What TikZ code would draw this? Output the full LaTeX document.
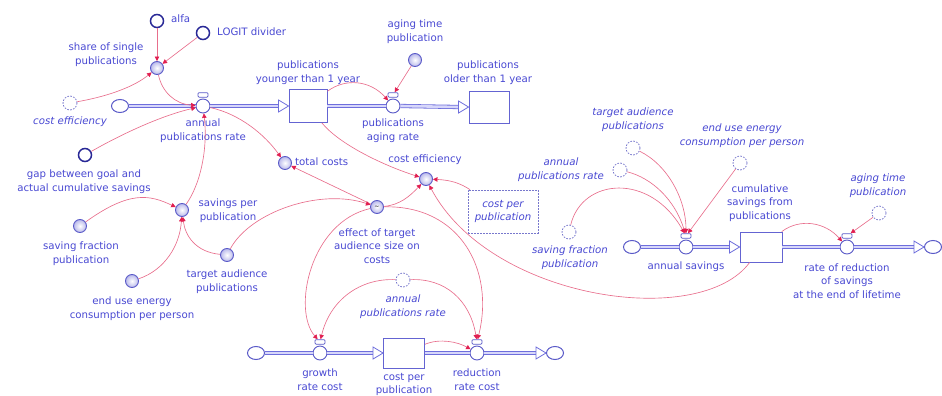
\documentclass[tikz,border=0pt]{standalone}
\usepackage{fontspec}
\setmainfont{DejaVu Sans}
\usetikzlibrary{arrows.meta,shapes.geometric}
\definecolor{textblue}{RGB}{72,72,210}
\definecolor{navy}{RGB}{40,40,150}
\definecolor{auxblue}{RGB}{90,90,200}
\definecolor{auxfill}{RGB}{185,185,235}
\definecolor{ghostblue}{RGB}{120,120,205}
\definecolor{pipeblue}{RGB}{110,110,220}
\definecolor{pipefill}{RGB}{215,215,250}
\definecolor{stockblue}{RGB}{100,100,210}
\definecolor{linkpink}{RGB}{232,110,140}
\definecolor{arrowred}{RGB}{225,30,80}
\begin{document}
\begin{tikzpicture}[x=1pt,y=-1pt,
  lbl/.style={text=textblue, font=\fontsize{10.2}{13.8}\selectfont, align=center, inner sep=0pt},
  ilbl/.style={text=textblue, font=\fontsize{10.2}{13.8}\selectfont\itshape, align=center, inner sep=0pt},
  const/.style={circle, draw=navy, line width=1.5pt, fill=white, minimum size=13pt, inner sep=0pt},
  aux/.style={circle, draw=auxblue, line width=0.9pt, inner color=white, outer color=auxfill, minimum size=13pt, inner sep=0pt},
  ghost/.style={circle, draw=ghostblue, line width=0.8pt, dash pattern=on 1.6pt off 1.4pt, fill=white, minimum size=14pt, inner sep=0pt},
  ghostbox/.style={rectangle, draw=ghostblue, line width=0.8pt, dash pattern=on 1.6pt off 1.4pt, fill=white, text=textblue, font=\fontsize{10.2}{13.8}\selectfont\itshape, align=center, inner sep=0pt},
  valve/.style={circle, draw=auxblue, line width=0.9pt, fill=white, minimum size=14pt, inner sep=0pt},
  handle/.style={rectangle, rounded corners=1pt, draw=auxblue, line width=0.8pt, fill=white, minimum width=10pt, minimum height=4.5pt, inner sep=0pt},
  stock/.style={rectangle, draw=stockblue, line width=0.9pt, fill=white, inner sep=0pt},
  cloudn/.style={ellipse, draw=auxblue, line width=1pt, fill=white, minimum width=17pt, minimum height=13pt, inner sep=0pt},
  pipe/.style={draw=pipeblue, line width=0.8pt, double=pipefill, double distance=2.6pt},
  tipdraw/.style={draw=pipeblue, line width=0.8pt, fill=white, line join=miter},
  link/.style={draw=linkpink, line width=0.65pt, -{Triangle[length=4.5pt, width=4.5pt, color=arrowred]}}
]
\useasboundingbox (0,0) rectangle (942,396);

% ---------- top chain ----------
\node[const] (alfa) at (157,21) {};
\node[lbl, anchor=west] (lalfa) at (171,19) {alfa};
\node[const] (logit) at (203,33) {};
\node[lbl, anchor=west] (llogit) at (217,32) {LOGIT divider};
\node[aux] (share) at (157,68) {};
\node[lbl] (lshare) at (106,55) {share of single\\publications};
\node[ghost] (gce) at (70,103) {};
\node[ilbl] (lgce) at (70,122) {cost efficiency};
\node[cloudn] (c1) at (120,106) {};
\node[valve] (vapr) at (203,106) {};
\node[handle, anchor=south] (hapr) at ([yshift=1pt]vapr.north) {};
\node[lbl] (lvapr) at (203,131) {annual\\publications rate};
\node[stock, minimum width=38pt, minimum height=33pt] (sy) at (308,106) {};
\node[lbl] (lsy) at (308,73) {publications\\younger than 1 year};
\node[valve] (vage) at (393,106) {};
\node[handle, anchor=south] (hage) at ([yshift=1pt]vage.north) {};
\node[lbl] (lvage) at (393,131) {publications\\aging rate};
\node[stock, minimum width=40pt, minimum height=32pt] (so) at (489,107) {};
\node[lbl] (lso) at (488,73) {publications\\older than 1 year};
\node[aux] (agt) at (415,60) {};
\node[lbl] (lagt) at (415,32) {aging time\\publication};

% ---------- middle ----------
\node[aux] (tc) at (285,163) {};
\node[lbl, anchor=west] (ltc) at (295,162) {total costs};
\node[aux] (ce) at (426,179) {};
\node[lbl] (lce) at (425,160) {cost efficiency};
\node[ghostbox, minimum width=70pt, minimum height=43pt] (cpg) at (503,211.5) {cost per\\publication};
\node[aux] (eff) at (377,207) {\fontsize{6}{6}\selectfont\textasciitilde};
\node[lbl] (leff) at (377,246) {effect of target\\audience size on\\costs};
\node[const] (gap) at (85,155) {};
\node[lbl] (lgap) at (84,182) {gap between goal and\\actual cumulative savings};
\node[aux] (sp) at (182,210) {};
\node[lbl] (lsp) at (228,211) {savings per\\publication};
\node[aux] (sf) at (80,226) {};
\node[lbl] (lsf) at (81,254) {saving fraction\\publication};
\node[aux] (eu) at (132,281) {};
\node[lbl] (leu) at (132,309) {end use energy\\consumption per person};
\node[aux] (ta) at (227,255) {};
\node[lbl] (lta) at (227,282) {target audience\\publications};

% ---------- bottom chain ----------
\node[cloudn] (c2) at (256,353) {};
\node[valve] (vg) at (320,353) {};
\node[handle, anchor=south] (hg) at ([yshift=1pt]vg.north) {};
\node[lbl] (lvg) at (320,380) {growth\\rate cost};
\node[stock, minimum width=41pt, minimum height=30pt] (sc) at (404,353) {};
\node[lbl, font=\fontsize{10.2}{12.5}\selectfont] (lsc) at (404,384.5) {cost per\\publication};
\node[valve] (vr) at (477,353) {};
\node[handle, anchor=south] (hr) at ([yshift=1pt]vr.north) {};
\node[lbl] (lvr) at (477,380) {reduction\\rate cost};
\node[cloudn] (c3) at (555,353) {};
\node[ghost] (gapr2) at (403,280) {};
\node[ilbl] (lgapr2) at (403,307) {annual\\publications rate};

% ---------- right chain ----------
\node[cloudn] (c4) at (632,247) {};
\node[valve] (vas) at (686,247) {};
\node[handle, anchor=south] (has) at ([yshift=1pt]vas.north) {};
\node[lbl] (lvas) at (686,267) {annual savings};
\node[stock, minimum width=42pt, minimum height=30pt] (scs) at (761,247) {};
\node[lbl] (lscs) at (760,203) {cumulative\\savings from\\publications};
\node[valve] (vrr) at (847,247) {};
\node[handle, anchor=south] (hrr) at ([yshift=1pt]vrr.north) {};
\node[lbl] (lvrr) at (847,281) {rate of reduction\\of savings\\at the end of lifetime};
\node[cloudn] (c5) at (933,247) {};
\node[ghost] (gta) at (633,148) {};
\node[ilbl] (lgta) at (633,120) {target audience\\publications};
\node[ghost] (gapr3) at (620,170) {};
\node[ilbl] (lgapr3) at (561,170) {annual\\publications rate};
\node[ghost] (gsf) at (569,232) {};
\node[ilbl] (lgsf) at (570,258) {saving fraction\\publication};
\node[ghost] (geu) at (740,163) {};
\node[ilbl] (lgeu) at (742,136) {end use energy\\consumption per person};
\node[ghost] (gat) at (879,213) {};
\node[ilbl] (lgat) at (878,186) {aging time\\publication};

% ---------- pipes ----------
\draw[pipe] (c1.east) -- (vapr.west);
\draw[pipe] (vapr.east) -- ([xshift=-10pt]sy.west);
\draw[tipdraw] (sy.west) -- ++(-10,-6) -- ++(0,12) -- cycle;
\draw[pipe] (sy.east) -- (vage.west);
\draw[pipe] (vage.east) -- ([xshift=-10pt]so.west);
\draw[tipdraw] (so.west) -- ++(-10,-6) -- ++(0,12) -- cycle;

\draw[pipe] (c2.east) -- (vg.west);
\draw[pipe] (vg.east) -- ([xshift=-10pt]sc.west);
\draw[tipdraw] (sc.west) -- ++(-10,-6) -- ++(0,12) -- cycle;
\draw[pipe] (sc.east) -- (vr.west);
\draw[pipe] (vr.east) -- ([xshift=-10pt]c3.west);
\draw[tipdraw] (c3.west) -- ++(-10,-6) -- ++(0,12) -- cycle;

\draw[pipe] (c4.east) -- (vas.west);
\draw[pipe] (vas.east) -- ([xshift=-10pt]scs.west);
\draw[tipdraw] (scs.west) -- ++(-10,-6) -- ++(0,12) -- cycle;
\draw[pipe] (scs.east) -- (vrr.west);
\draw[pipe] (vrr.east) -- ([xshift=-10pt]c5.west);
\draw[tipdraw] (c5.west) -- ++(-10,-6) -- ++(0,12) -- cycle;

% ---------- links ----------
\draw[link] (alfa) -- (share);
\draw[link] (logit) -- (share);
\draw[link] (gce) .. controls (110,96) and (135,86) .. (share);
\draw[link] (share) .. controls (162,92) and (175,104) .. (vapr);
\draw[link] (gap) .. controls (120,135) and (160,116) .. (vapr);
\draw[link] (sp) .. controls (200,185) and (208,150) .. (vapr);
\draw[link] (vapr) .. controls (240,114) and (265,135) .. (tc);
\draw[link] (eff) -- (tc);
\draw[link] (ta) .. controls (250,212) and (320,188) .. (eff);
\draw[link] (sy) .. controls (340,145) and (385,166) .. (ce);
\draw[link] (eff) .. controls (400,205) and (410,196) .. (ce);
\draw[link] (cpg) .. controls (460,183) and (450,180) .. (ce);
\draw[link] (scs) .. controls (700,330) and (490,300) .. (ce);
\draw[link] (eff) .. controls (310,222) and (292,310) .. (hg);
\draw[link] (eff) .. controls (460,205) and (495,270) .. (hr);
\draw[link] (gapr2) .. controls (360,278) and (330,300) .. (hg);
\draw[link] (gapr2) .. controls (445,278) and (470,300) .. (hr);
\draw[link] (sc) .. controls (440,338) and (458,342) .. (vr);
\draw[link] (sy) .. controls (345,78) and (370,80) .. (vage);
\draw[link] (agt) -- (hage);
\draw[link] (gsf) .. controls (582,178) and (650,172) .. (has);
\draw[link] (gapr3) .. controls (652,178) and (675,200) .. (has);
\draw[link] (gta) .. controls (668,165) and (686,200) .. (has);
\draw[link] (geu) -- (has);
\draw[link] (scs) .. controls (800,218) and (825,222) .. (vrr);
\draw[link] (gat) -- (hrr);
\draw[link] (sf) .. controls (130,190) and (150,195) .. (sp);
\draw[link] (eu) .. controls (165,270) and (180,245) .. (sp);
\draw[link] (ta) .. controls (195,252) and (185,235) .. (sp);
\end{tikzpicture}
\end{document}
